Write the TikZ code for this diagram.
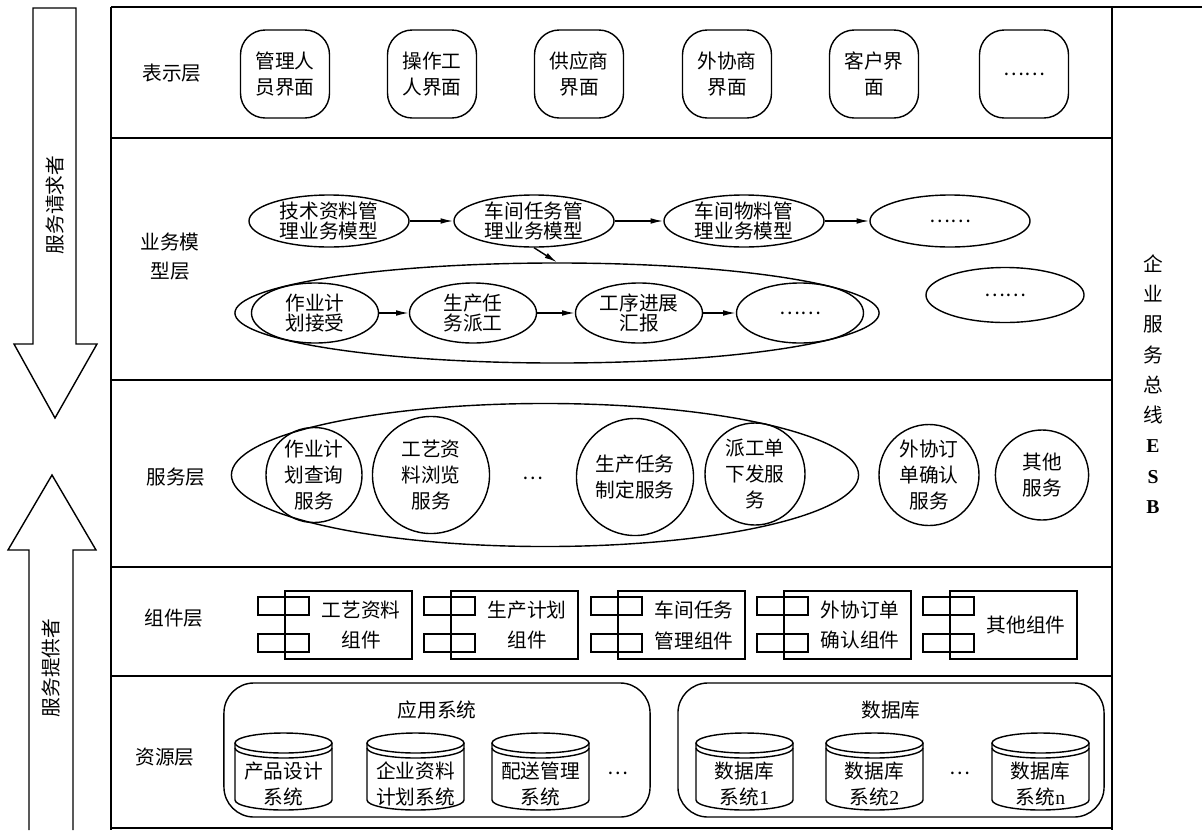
\documentclass[tikz,border=0pt]{standalone}
\usepackage{fontspec}
\setmainfont{Liberation Serif}
\newfontfamily\cjk{Noto Sans CJK SC}
\usetikzlibrary{positioning, arrows.meta, shapes.geometric}

\begin{document}
\begin{tikzpicture}[
  x=0.025cm, y=-0.025cm,
  every node/.style={font=\cjk\fontsize{14}{19}\selectfont, align=center, inner sep=0pt},
  frame/.style={line width=1.2pt},
  blockarrow/.style={line width=1pt, line join=miter},
  uibox/.style={draw, line width=1pt, rounded corners=0.62cm,
                minimum width=2.225cm, minimum height=2.2cm},
  model/.style={draw, ellipse, line width=1pt, minimum width=4cm, minimum height=1.3cm,
                inner sep=-1.5pt, font=\cjk\fontsize{14}{14.5}\selectfont},
  task/.style={model, minimum width=3.175cm, minimum height=1.5cm},
  grp/.style={draw, ellipse, line width=1pt},
  svc/.style={draw, ellipse, line width=1pt, inner sep=-3pt,
              font=\cjk\fontsize{14}{18.5}\selectfont},
  comp/.style={draw, line width=1pt, minimum width=3.175cm, minimum height=1.7cm},
  port/.style={draw, line width=1pt, minimum width=1.275cm, minimum height=0.45cm},
  sysbox/.style={draw, line width=1pt, rounded corners=0.75cm,
                 minimum width=10.65cm, minimum height=3.35cm},
  cyl/.style={line width=1pt},
  ar/.style={-{Latex[length=9pt,width=4pt]}, line width=1pt},
]
  \useasboundingbox (0,0) rectangle (1202,830);

  % frame and layers
  \draw[frame] (111,7) -- (1202,7);
  \draw[frame] (111,7) -- (111,830);
  \draw[frame] (1112,7) -- (1112,830);
  \draw[frame] (111,828) -- (1112,828);
  \foreach \y in {138,380,567,676}
    \draw[frame] (111,\y) -- (1112,\y);

  % requester / provider arrows
  \draw[blockarrow] (33,8) -- (76,8) -- (76,344) -- (97,344) -- (55,418)
    -- (14,344) -- (33,344) -- cycle;
  \draw[blockarrow] (29,830) -- (29,550) -- (8,550) -- (52,475) -- (96,550)
    -- (73,550) -- (73,830);
  \node[rotate=90] (req) at (55,205) {服务请求者};
  \node[rotate=90] (prov) at (51,668) {服务提供者};

  % layer names
  \node (l1) at (172,73) {表示层};
  \node[font=\cjk\fontsize{14}{20.5}\selectfont] (l2) at (170,257) {业务模\\型层};
  \node (l3) at (176,477) {服务层};
  \node (l4) at (174,618) {组件层};
  \node (l5) at (165,757) {资源层};

  % presentation layer
  \foreach \x/\t [count=\i] in {285/{管理人\\员界面}, 432/{操作工\\人界面},
      579/{供应商\\界面}, 727/{外协商\\界面}, 874/{客户界\\面}, 1024/{……}}
    \node[uibox] (ui\i) at (\x,74) {\t};

  % business model layer
  \node[model] (m1) at (329,221) {技术资料管\\理业务模型};
  \node[model] (m2) at (534,221) {车间任务管\\理业务模型};
  \node[model] (m3) at (744,221) {车间物料管\\理业务模型};
  \node[model] (m4) at (950,221) {……};
  \node[model, minimum width=3.95cm, minimum height=1.375cm] (m5) at (1005,295) {……};
  \draw[ar] (m1) -- (m2);
  \draw[ar] (m2) -- (m3);
  \draw[ar] (m3) -- (m4);

  \node[grp, minimum width=16.1cm, minimum height=2.5cm] (tgrp) at (557,313) {};
  \node[task] (t1) at (315,313) {作业计\\划接受};
  \node[task] (t2) at (473,313) {生产任\\务派工};
  \node[task] (t3) at (639,313) {工序进展\\汇报};
  \node[task] (t4) at (800,313) {……};
  \draw[ar] (t1) -- (t2);
  \draw[ar] (t2) -- (t3);
  \draw[ar] (t3) -- (t4);
  \draw[ar] (m2.south) -- (tgrp.north);

  % service layer
  \node[grp, minimum width=15.675cm, minimum height=3.575cm] (sgrp) at (545,475) {};
  \node[svc, minimum width=2.4cm, minimum height=2.375cm] (s1) at (314,475) {作业计\\划查询\\服务};
  \node[svc, minimum size=2.925cm] (s2) at (431,475) {工艺资\\料浏览\\服务};
  \node (sdots) at (533,478) {…};
  \node[svc, minimum size=2.925cm] (s3) at (635,477) {生产任务\\制定服务};
  \node[svc, minimum width=2.5cm, minimum height=2.55cm] (s4) at (755,474) {派工单\\下发服\\务};
  \node[svc, minimum width=2.5cm, minimum height=2.525cm] (s5) at (929,475) {外协订\\单确认\\服务};
  \node[svc, minimum width=2.33cm, minimum height=2.25cm] (s6) at (1042,475) {其他\\服务};

  % component layer
  \foreach \x/\t [count=\i] in {285/{工艺资料\\组件}, 451/{生产计划\\组件},
      618/{车间任务\\管理组件}, 784/{外协订单\\确认组件}, 950/{其他组件}} {
    \node[comp] (c\i) at (\x+63.5,625) {};
    \node[port] (c\i-a) at (\x-1.5,606) {};
    \node[port] (c\i-b) at (\x-1.5,643) {};
    \node[font=\cjk\fontsize{14}{22}\selectfont] (c\i-t) at (\x+76,625) {\t};
  }

  % resource layer
  \node[sysbox] (app) at (437,750) {};
  \node[below=0.45cm of app.north] (apptitle) {应用系统};
  \node[sysbox] (db) at (891,750) {};
  \node[below=0.45cm of db.north] (dbtitle) {数据库};
  \foreach \x/\t [count=\i] in {235/{产品设计\\系统}, 367/{企业资料\\计划系统},
      492/{配送管理\\系统}, 696/{数据库\\系统{\rmfamily 1}},
      826/{数据库\\系统{\rmfamily 2}}, 992/{数据库\\系统{\rmfamily n}}} {
    \draw[cyl] (\x,743) -- (\x,800)
      arc[start angle=180, end angle=0, x radius=48.5, y radius=10] -- (\x+97,743);
    \draw[cyl] (\x+48.5,743) ellipse [x radius=48.5, y radius=10];
    \draw[cyl] (\x,748) arc[start angle=180, end angle=0, x radius=48.5, y radius=10];
    \node[font=\cjk\fontsize{14}{18}\selectfont] (r\i) at (\x+48.5,784) {\t};
  }
  \node (appdots) at (618,773) {…};
  \node (dbdots) at (960,773) {…};

  % enterprise service bus
  \node[font=\cjk\fontsize{14}{21.5}\selectfont] (esb) at (1153,384)
    {企\\业\\服\\务\\总\\线\\{\rmfamily\bfseries E}\\{\rmfamily\bfseries S}\\{\rmfamily\bfseries B}};
\end{tikzpicture}
\end{document}
